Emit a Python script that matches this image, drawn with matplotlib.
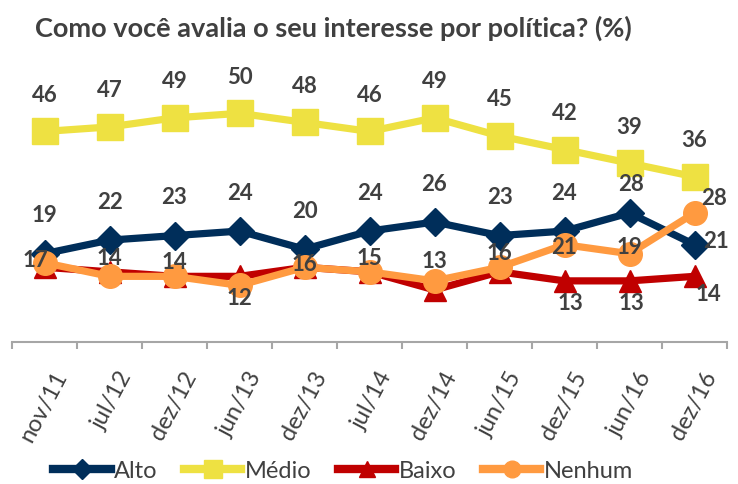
import matplotlib.pyplot as plt
from matplotlib.lines import Line2D

plt.rcParams['font.family'] = ['Lato', 'DejaVu Sans']

# Data
periods = ['nov/11', 'jul/12', 'dez/12', 'jun/13', 'dez/13', 'jul/14',
           'dez/14', 'jun/15', 'dez/15', 'jun/16', 'dez/16']
alto = [19, 22, 23, 24, 20, 24, 26, 23, 24, 28, 21]
medio = [46, 47, 49, 50, 48, 46, 49, 45, 42, 39, 36]
baixo = [16, 15, 14, 14, 16, 15, 11, 15, 13, 13, 14]
nenhum = [17, 14, 14, 12, 16, 15, 13, 16, 21, 19, 28]
baixo_labelled = [8, 9, 10]  # only the last Baixo points carry a label

c_alto = '#002E5A'
c_medio = '#EEE142'
c_baixo = '#C00000'
c_nenhum = '#FF9A40'
txt = '#404040'

fig = plt.figure(figsize=(7.38, 4.85), dpi=100)
ax = fig.add_axes([12 / 738, 1 - 343 / 485, 715 / 738, 283 / 485])

x = list(range(len(periods)))
lw = 5.2
ax.plot(x, alto, color=c_alto, lw=lw, marker='D', ms=14, zorder=3)
ax.plot(x, medio, color=c_medio, lw=lw, marker='s', ms=19, zorder=3)
ax.plot(x, baixo, color=c_baixo, lw=lw, marker='^', ms=16, zorder=4)
ax.plot(x, nenhum, color=c_nenhum, lw=lw, marker='o', ms=17, zorder=5)

lab = dict(fontsize=16, fontweight='bold', color=txt, ha='center',
           va='center', textcoords='offset pixels', zorder=6)

for i, v in enumerate(medio):
    ax.annotate(str(v), (i, v), xytext=(0, 37), **lab)

for i, v in enumerate(alto):
    off = (0, 39)
    if i == 9:
        off = (2, 29)
    if i == 10:
        off = (22, 4)
    ax.annotate(str(v), (i, v), xytext=off, **lab)

n_off = [(-9, 3), (0, 19), (0, 15), (0, -12), (0, 4), (0, 14),
         (0, 20), (0, 15), (0, -2), (0, 7), (20, 15)]
for i, v in enumerate(nenhum):
    ax.annotate(str(v), (i, v), xytext=n_off[i], **lab)

b_off = {8: (6, -22), 9: (2, -22), 10: (14, -17)}
for i in baixo_labelled:
    ax.annotate(str(baixo[i]), (i, baixo[i]), xytext=b_off[i], **lab)

ax.set_xlim(-0.5, len(periods) - 0.5)
ax.set_ylim(-0.5, 62)
ax.set_yticks([])
for s in ['top', 'right', 'left']:
    ax.spines[s].set_visible(False)
ax.spines['bottom'].set_color('#A6A6A6')
ax.spines['bottom'].set_linewidth(1.5)

ax.set_xticks([i - 0.5 for i in range(len(periods) + 1)])
ax.set_xticklabels([])
ax.tick_params(axis='x', length=5, width=1.5, color='#A6A6A6', direction='out')
for i, p in enumerate(periods):
    ax.text(i + 0.12, -6, p, rotation=62, ha='right', va='top',
            rotation_mode='anchor', fontsize=17, color=txt, clip_on=False)

fig.text(35 / 738, 1 - 28 / 485, 'Como você avalia o seu interesse por política? (%)',
         fontsize=19.5, fontweight='bold', color=txt, ha='left', va='center')

handles = [
    Line2D([], [], color=c_alto, lw=6, marker='D', ms=10, label='Alto'),
    Line2D([], [], color=c_medio, lw=6, marker='s', ms=13, label='Médio'),
    Line2D([], [], color=c_baixo, lw=6, marker='^', ms=12, label='Baixo'),
    Line2D([], [], color=c_nenhum, lw=6, marker='o', ms=12, label='Nenhum'),
]
leg = fig.legend(handles=handles, loc='center', ncol=4, frameon=False,
                 bbox_to_anchor=(343 / 738, 1 - 472 / 485), fontsize=17,
                 handlelength=2.45, handletextpad=0.15, columnspacing=1.1)
for t in leg.get_texts():
    t.set_color(txt)

plt.savefig('out.png', dpi=100)
